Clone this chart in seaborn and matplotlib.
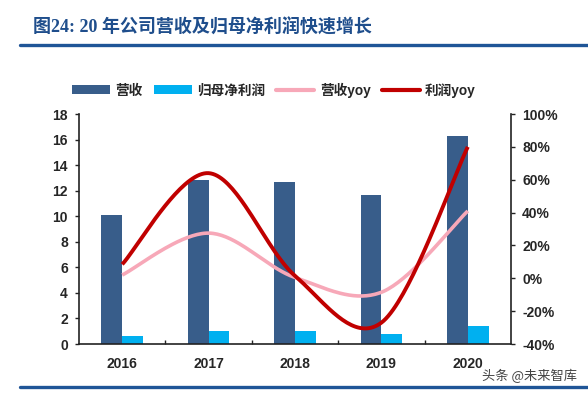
import numpy as np
import pandas as pd
import matplotlib
matplotlib.use("Agg")
import matplotlib.pyplot as plt
from matplotlib.patches import Patch
from matplotlib.lines import Line2D
import seaborn as sns

# ---- data ----
years = ["2016", "2017", "2018", "2019", "2020"]
revenue = [10.1, 12.8, 12.7, 11.7, 16.3]          # 营收 (left axis)
net_profit = [0.65, 1.04, 1.04, 0.78, 1.41]      # 归母净利润 (left axis)
revenue_yoy = [2.0, 27.5, 0.5, -8.5, 41.0]       # 营收yoy (%)
profit_yoy = [8.5, 64.0, 1.5, -27.0, 80.0]       # 利润yoy (%)
left_ticks = [0, 2, 4, 6, 8, 10, 12, 14, 16, 18]
right_ticks = [-40, -20, 0, 20, 40, 60, 80, 100]
series_names = ["营收", "归母净利润", "营收yoy", "利润yoy"]

title_text = "图24: 20 年公司营收及归母净利润快速增长"
watermark = "头条 @未来智库"

C_REV = "#385D8A"
C_NP = "#00B0F0"
C_RYOY = "#F7A8B8"
C_PYOY = "#C00000"
TITLE_BLUE = "#1F4E8C"

sns.set_style("ticks")
plt.rcParams["font.family"] = ["Liberation Sans", "Noto Sans CJK SC", "DejaVu Sans"]
plt.rcParams["axes.unicode_minus"] = False


def smooth(xs, ys, n=40):
    """Catmull-Rom style Bezier smoothing (like Excel's smoothed line)."""
    P = np.column_stack([xs, ys]).astype(float)
    m = len(P)
    out = []
    for i in range(m - 1):
        p0 = P[max(i - 1, 0)]
        p1 = P[i]
        p2 = P[i + 1]
        p3 = P[min(i + 2, m - 1)]
        b1 = p1 + (p2 - p0) / 6.0
        b2 = p2 - (p3 - p1) / 6.0
        t = np.linspace(0, 1, n, endpoint=(i == m - 2))[:, None]
        seg = ((1 - t) ** 3) * p1 + 3 * ((1 - t) ** 2) * t * b1 + 3 * (1 - t) * t ** 2 * b2 + t ** 3 * p2
        out.append(seg)
    out = np.vstack(out)
    return out[:, 0], out[:, 1]


fig = plt.figure(figsize=(5.88, 3.94), dpi=100)
ax = fig.add_axes([79 / 588, 1 - 344 / 394, (511 - 79) / 588, (344 - 114) / 394])

bars = pd.DataFrame({
    "year": years * 2,
    "series": [series_names[0]] * len(years) + [series_names[1]] * len(years),
    "value": revenue + net_profit,
})
sns.barplot(data=bars, x="year", y="value", hue="series",
            hue_order=series_names[:2], palette=[C_REV, C_NP], saturation=1,
            width=0.48, gap=0, linewidth=0, legend=False, ax=ax, errorbar=None)

ax.set_xlim(-0.5, len(years) - 0.5)
ax.set_ylim(0, 18)
ax.set_yticks(left_ticks)
ax.set_xlabel("")
ax.set_ylabel("")
ax.set_xticks(range(len(years)))
ax.set_xticklabels(years)
ax.set_xticks(np.arange(0.5, len(years) - 0.5, 1), minor=True)
ax.tick_params(axis="x", which="major", length=0, pad=9, labelsize=10)
ax.tick_params(axis="x", which="minor", direction="in", length=3, width=1, color="#222222")
ax.tick_params(axis="y", which="major", direction="out", length=3, width=1, pad=5, labelsize=10, color="#222222")
for lab in ax.get_xticklabels() + ax.get_yticklabels():
    lab.set_fontweight("bold")
for s in ["left", "bottom"]:
    ax.spines[s].set_color("#222222")
    ax.spines[s].set_linewidth(1.2)
ax.spines["top"].set_visible(False)
ax.spines["right"].set_visible(False)

ax2 = ax.twinx()
xs = np.arange(len(years))
for vals, col, lw in [(revenue_yoy, C_RYOY, 2.6), (profit_yoy, C_PYOY, 2.8)]:
    sx, sy = smooth(xs, vals)
    sns.lineplot(x=sx, y=sy, color=col, linewidth=lw, ax=ax2, sort=False,
                 solid_capstyle="butt")
ax2.set_ylim(-40, 100)
ax2.set_yticks(right_ticks)
ax2.set_yticklabels([f"{v}%" for v in right_ticks])
ax2.tick_params(axis="y", direction="out", length=3, width=1, pad=5, labelsize=10, color="#222222")
for lab in ax2.get_yticklabels():
    lab.set_fontweight("bold")
ax2.spines["right"].set_color("#222222")
ax2.spines["right"].set_linewidth(1.2)
for s in ["top", "left", "bottom"]:
    ax2.spines[s].set_visible(False)
ax2.set_ylabel("")
ax2.set_xlim(-0.5, len(years) - 0.5)

# legend
handles = [
    Patch(facecolor=C_REV, edgecolor="none"),
    Patch(facecolor=C_NP, edgecolor="none"),
    Line2D([0], [0], color=C_RYOY, lw=3),
    Line2D([0], [0], color=C_PYOY, lw=3),
]
fig.legend(handles, series_names, ncol=4, frameon=False,
           loc="center", bbox_to_anchor=(274 / 588, 1 - 90 / 394),
           prop={"weight": "bold", "size": 9.8, "family": ["Liberation Sans", "Noto Sans CJK SC"]},
           handlelength=2.8, handleheight=0.6, handletextpad=0.4, columnspacing=0.8)

# title & decorative rules
fig.text(33 / 588, 1 - 28 / 394, title_text, color=TITLE_BLUE, fontsize=13,
         fontweight="bold", va="center", ha="left",
         family=["Liberation Serif", "Noto Sans CJK SC"])
fig.add_artist(Line2D([20 / 588, 1], [1 - 45 / 394] * 2, color="#1F5597", lw=2.4))
fig.add_artist(Line2D([20 / 588, 1], [1 - 387 / 394] * 2, color="#1F5597", lw=2.4))
fig.text(577 / 588, 1 - 376 / 394, watermark, color="#444444", fontsize=9.5,
         ha="right", va="center", family=["Noto Sans CJK SC", "DejaVu Sans"])

fig.savefig("out.png", dpi=100)
